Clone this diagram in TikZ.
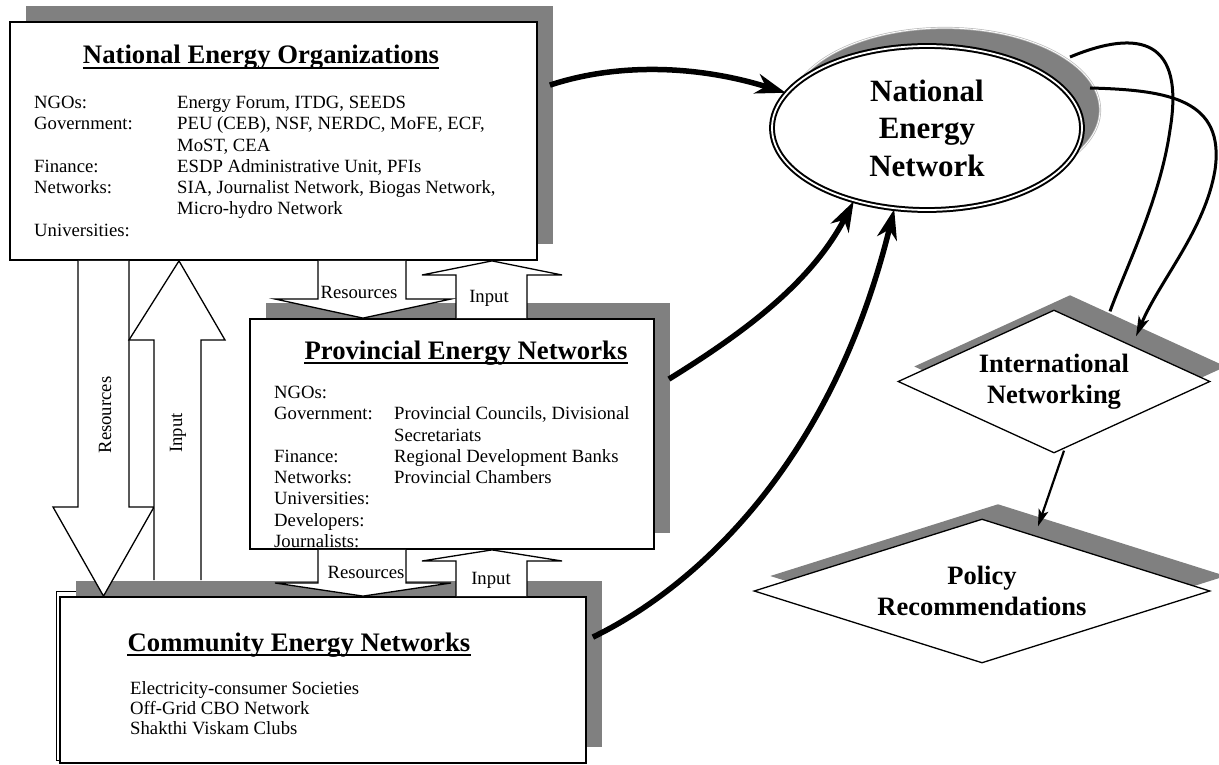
\documentclass[tikz,border=0pt]{standalone}
\usepackage{fontspec}
\setmainfont{Liberation Serif}
\usepackage{tikz}
\usetikzlibrary{arrows.meta,shapes.geometric,shadows,calc}

\definecolor{shadowgray}{gray}{0.5}

\newcommand{\boxlistfont}{\fontsize{18.7}{21.3}\selectfont}
\newcommand{\commlistfont}{\fontsize{18.7}{20}\selectfont}
\newcommand{\boxheadfont}{\fontsize{26.7}{31}\selectfont\bfseries}
\newcommand{\nenfont}{\fontsize{31}{37.5}\selectfont\bfseries}
\newcommand{\dmdfont}{\fontsize{26.5}{31}\selectfont\bfseries}

% hollow arrow: shaft x, head x, tip x, from, head base y, to
\newcommand{\blockarrow}[8]{%
  \draw[hollow] (#1,0 |- #6) -- (#1,#7) -- (#3,#7) -- (#5,0 |- #8)
    -- (#4,#7) -- (#2,#7) -- (#2,0 |- #6);
}

\tikzset{
  orgbox/.style={draw, line width=1.8pt, fill=white, inner sep=0pt,
    drop shadow={shadow xshift=16pt, shadow yshift=16pt, opacity=1, fill=shadowgray}},
  boxhead/.style={anchor=base, inner sep=0pt, font=\boxheadfont},
  boxlist/.style={anchor=north west, inner sep=0pt, font=\boxlistfont},
  headline/.style={line width=1.8pt},
  hollow/.style={fill=white, line width=1.3pt, line join=miter},
  armlabel/.style={inner sep=0pt, font=\boxlistfont},
  nenode/.style={ellipse, draw, double, line width=2pt, double distance=1.8pt,
    fill=white, inner sep=0pt, align=center, font=\nenfont,
    drop shadow={shadow xshift=18pt, shadow yshift=18pt, opacity=1, fill=shadowgray,
      draw=gray!55, line width=0.7pt, double=white, double distance=0.8pt}},
  dmd/.style={diamond, draw, line width=1.3pt, fill=white, inner sep=0pt,
    align=center, font=\dmdfont,
    drop shadow={shadow xshift=16pt, shadow yshift=15pt, opacity=1, fill=shadowgray}},
  feed/.style={line width=5.5pt, -{Stealth[length=30pt, width=20pt, inset=9pt]}},
  link/.style={line width=3pt},
  linkarrow/.style={line width=3pt, -{Stealth[length=20pt, width=11pt, inset=5pt]}},
  downlink/.style={line width=2.2pt, -{Stealth[length=17pt, width=10pt, inset=4pt]}}
}

\begin{document}
\begin{tikzpicture}[x=1pt, y=-1pt]
\useasboundingbox (0,0) rectangle (1219,765);

% old outline left behind the community box
\draw[line width=1pt] (56,591) rectangle (580,760);

% boxes
\node[orgbox, minimum width=527, minimum height=238] (neo) at (273.5,141) {};
\node[orgbox, minimum width=404, minimum height=230] (pen) at (452,434) {};
\node[orgbox, minimum width=526, minimum height=166] (comm) at (323,680) {};
\coordinate (commTop) at ([yshift=16pt]comm.north);

\node[boxhead] (neoTitle) at (261,64) {National Energy Organizations};
\node[boxhead] (penTitle) at (466,359) {Provincial Energy Networks};
\node[boxhead] (commTitle) at (299,651) {Community Energy Networks};
\foreach \t in {neoTitle,penTitle,commTitle}
  \draw[headline] ([yshift=-4pt]\t.base west) -- ([yshift=-4pt]\t.base east);

\node[boxlist] (neoList) at (34,93.3) {\begin{tabular}{@{}p{143pt}@{}l@{}}
NGOs: & Energy Forum, ITDG, SEEDS\\
Government: & PEU (CEB), NSF, NERDC, MoFE, ECF,\\
 & MoST, CEA\\
Finance: & ESDP Administrative Unit, PFIs\\
Networks: & SIA, Journalist Network, Biogas Network,\\
 & Micro-hydro Network\\
Universities: &
\end{tabular}};

\node[boxlist] (penList) at (274,383.3) {\begin{tabular}{@{}p{120pt}@{}l@{}}
NGOs: & \\
Government: & Provincial Councils, Divisional\\
 & Secretariats\\
Finance: & Regional Development Banks\\
Networks: & Provincial Chambers\\
Universities: & \\
Developers: & \\
Journalists: &
\end{tabular}};

\node[boxlist, font=\commlistfont] (commList) at (130,680.2) {\begin{tabular}{@{}l@{}}
Electricity-consumer Societies\\
Off-Grid CBO Network\\
Shakthi Viskam Clubs
\end{tabular}};

% resources down, input up
\blockarrow{78}{129}{53}{154}{103.5}{neo.south}{507}{comm.north}
\blockarrow{154}{201}{129}{225}{179}{commTop}{340}{neo.south}
\blockarrow{318}{406}{275}{451}{363}{neo.south}{299}{pen.north}
\blockarrow{456}{527}{422}{562}{492}{pen.north}{275}{neo.south}
\blockarrow{318}{406}{275}{451}{363}{pen.south}{583}{comm.north}
\blockarrow{456}{527}{422}{562}{492}{comm.north}{561}{pen.south}

\node[armlabel, rotate=90] (resBig) at (105,415) {Resources};
\node[armlabel, rotate=90] (inBig) at (178,433) {Input};
\node[armlabel] (resUp) at (359,292) {Resources};
\node[armlabel] (inUp) at (489,298) {Input};
\node[armlabel] (resLow) at (366,572) {Resources};
\node[armlabel] (inLow) at (491,580) {Input};

% network side
\node[nenode, minimum width=310, minimum height=164] (nen) at (927,128) {National\\Energy\\Network};
\node[dmd, minimum width=312, minimum height=143, aspect=2.18] (intl) at (1054,381.5) {International\\Networking};
\node[dmd, minimum width=456, minimum height=144, aspect=3.17] (policy) at (982,591) {Policy\\Recommendations};

\draw[feed] ($(neo.north east)+(12,64)$) .. controls (620,62) and (700,66) .. (nen.166);
\draw[feed] ($(pen.north east)+(14,61)$) .. controls (740,335) and (810,285) .. (nen.225);
\draw[feed] ($(comm.north east)+(6,41)$) .. controls (690,590) and (830,470) .. (nen.248);

\draw[link] ($(nen.center)+(143,-71)$) .. controls (1140,28) and (1185,40) .. (1170,130)
  .. controls (1160,200) and (1125,270) .. ($(intl.north)+(56,2)$);
\draw[linkarrow] ($(nen.center)+(163,-40)$) .. controls (1170,90) and (1225,100) .. (1215,170)
  .. controls (1205,230) and (1160,280) .. ($(intl.north)+(82,27)$);
\draw[downlink] ($(intl.south)+(10,-3)$) -- ($(policy.north)+(56,8)$);
\end{tikzpicture}
\end{document}
